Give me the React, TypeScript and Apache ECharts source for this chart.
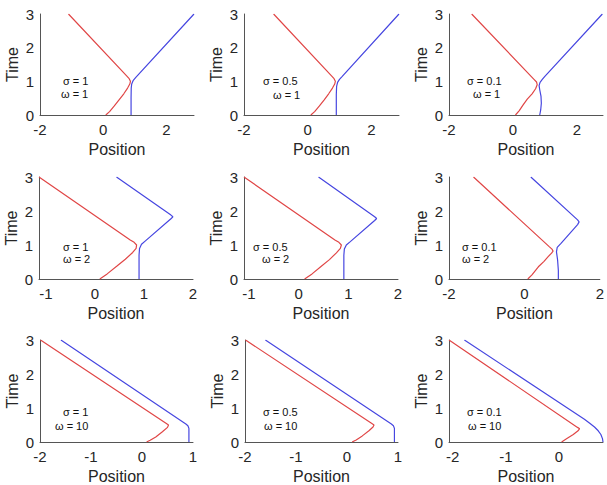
import React, { useEffect, useRef } from "react";
import * as echarts from "echarts";

// ---- data (position x, time t) ----
const timeTicks = [0, 1, 2, 3];
const sigmaLabels = ["σ = 1", "σ = 0.5", "σ = 0.1", "σ = 1", "σ = 0.5", "σ = 0.1", "σ = 1", "σ = 0.5", "σ = 0.1"];
const omegaLabels = ["ω = 1", "ω = 1", "ω = 1", "ω = 2", "ω = 2", "ω = 2", "ω = 10", "ω = 10", "ω = 10"];
const xMins = [-2, -2, -2, -1.14, -1.1, -2, -2, -2, -2.07];
const xMaxs = [2.87, 2.87, 2.82, 2, 2, 2, 1, 1, 0.83];
const xTicks = [
  [-2, 0, 2], [-2, 0, 2], [-2, 0, 2],
  [-1, 0, 1, 2], [-1, 0, 1, 2], [-2, 0, 2],
  [-2, -1, 0, 1], [-2, -1, 0, 1], [-2, -1, 0],
];

const red1 = [[0.08, 0], [0.2, 0.1], [0.35, 0.27], [0.5, 0.45], [0.65, 0.63], [0.77, 0.8], [0.84, 0.92], [0.86, 1.0], [0.82, 1.08], [0.74, 1.16], [-1.1, 3]];
const blue1 = [[0.88, 0], [0.88, 0.5], [0.885, 0.8], [0.9, 0.92], [0.95, 1.03], [1.03, 1.12], [2.87, 3]];
const red2 = [[0.1, 0], [0.22, 0.1], [0.37, 0.27], [0.52, 0.45], [0.66, 0.63], [0.78, 0.8], [0.85, 0.92], [0.87, 1.0], [0.83, 1.08], [0.75, 1.16], [-1.07, 3]];
const blue2 = [[0.9, 0], [0.9, 0.6], [0.91, 0.85], [0.94, 0.97], [1.0, 1.06], [1.08, 1.14], [2.87, 3]];
const red3 = [[0.08, 0], [0.2, 0.13], [0.32, 0.3], [0.45, 0.47], [0.6, 0.63], [0.71, 0.78], [0.76, 0.9], [0.74, 0.98], [0.66, 1.06], [-1.29, 3]];
const blue3 = [[0.84, 0], [0.87, 0.15], [0.89, 0.35], [0.88, 0.55], [0.84, 0.75], [0.82, 0.87], [0.85, 0.97], [0.92, 1.06], [1.0, 1.15], [2.8, 3]];
const red4 = [[0.1, 0], [0.25, 0.15], [0.45, 0.38], [0.62, 0.58], [0.77, 0.78], [0.84, 0.9], [0.85, 1.0], [0.8, 1.08], [0.72, 1.15], [-1.14, 3]];
const blue4 = [[0.9, 0], [0.9, 0.7], [0.91, 0.9], [0.95, 1.02], [1.03, 1.12], [1.55, 1.77], [1.59, 1.83], [1.55, 1.88], [0.44, 3]];
const red5 = [[0.12, 0], [0.27, 0.15], [0.45, 0.37], [0.62, 0.57], [0.76, 0.77], [0.84, 0.9], [0.86, 1.0], [0.81, 1.08], [0.73, 1.15], [-1.1, 3]];
const blue5 = [[0.91, 0], [0.91, 0.7], [0.92, 0.88], [0.96, 1.0], [1.04, 1.1], [1.53, 1.72], [1.57, 1.78], [1.53, 1.83], [0.4, 3]];
const red6 = [[0.09, 0], [0.2, 0.12], [0.37, 0.36], [0.52, 0.52], [0.63, 0.66], [0.72, 0.76], [0.76, 0.82], [0.73, 0.88], [0.65, 0.96], [-1.35, 3]];
const blue6 = [[0.9, 0], [0.9, 0.25], [0.88, 0.56], [0.85, 0.8], [0.87, 0.93], [0.97, 1.05], [1.41, 1.6], [1.45, 1.68], [1.41, 1.74], [0.17, 3]];
const red7 = [[0.09, 0], [0.16, 0.05], [0.27, 0.15], [0.4, 0.3], [0.5, 0.43], [0.52, 0.5], [0.47, 0.55], [-1.99, 3]];
const blue7 = [[0.92, 0], [0.92, 0.4], [0.9, 0.48], [0.86, 0.53], [-1.59, 3]];
const red8 = [[0.1, 0], [0.18, 0.06], [0.3, 0.18], [0.43, 0.33], [0.51, 0.44], [0.53, 0.5], [0.48, 0.55], [-1.99, 3]];
const blue8 = [[0.93, 0], [0.93, 0.4], [0.91, 0.48], [0.87, 0.53], [-1.6, 3]];
const red9 = [[0.05, 0], [0.15, 0.1], [0.27, 0.22], [0.36, 0.33], [0.39, 0.39], [0.35, 0.43], [-2.07, 3]];
const blue9 = [[0.83, 0], [0.82, 0.1], [0.79, 0.22], [0.74, 0.33], [0.67, 0.44], [0.58, 0.55], [0.48, 0.67], [-1.78, 3]];

const redPaths = [red1, red2, red3, red4, red5, red6, red7, red8, red9];
const bluePaths = [blue1, blue2, blue3, blue4, blue5, blue6, blue7, blue8, blue9];

// ---- layout (pixels) ----
const gridLefts = [40, 244, 449, 39, 244, 449, 40, 245, 449];
const gridRights = [194, 399, 603, 193, 398, 602, 193, 398, 603];
const rowTops = [14, 177, 340];
const rowBottoms = [115, 279, 442];
const sigmaPos = [[63, 81], [263, 81], [467, 81], [63, 247], [253, 247], [462, 247], [63, 412], [263, 412], [467, 412]];
const omegaPos = [[61, 94], [273, 95], [473, 94], [63, 259], [262, 259], [462, 259], [55, 426], [264, 426], [468, 426]];

const FONT = "'Liberation Sans', Arial, Helvetica, sans-serif";
const AXIS_COLOR = "#555555";
const TEXT_COLOR = "#262626";
const RED = "#e04646";
const BLUE = "#4646e0";

export default function App() {
  const ref = useRef<HTMLDivElement>(null);
  useEffect(() => {
    if (!ref.current) return;
    const chart = echarts.init(ref.current, null, { renderer: "svg" });
    const grids: any[] = [];
    const xAxes: any[] = [];
    const yAxes: any[] = [];
    const series: any[] = [];
    const graphics: any[] = [];
    for (let i = 0; i < 9; i++) {
      const row = Math.floor(i / 3);
      grids.push({
        left: gridLefts[i],
        top: rowTops[row],
        width: gridRights[i] - gridLefts[i],
        height: rowBottoms[row] - rowTops[row],
        containLabel: false,
      });
      xAxes.push({
        type: "value",
        gridIndex: i,
        min: xMins[i],
        max: xMaxs[i],
        name: "Position",
        nameLocation: "middle",
        nameGap: 26,
        nameTextStyle: { fontSize: 16, color: TEXT_COLOR, fontFamily: FONT },
        axisLine: { show: true, onZero: false, lineStyle: { color: AXIS_COLOR, width: 1 } },
        axisTick: { show: false },
        splitLine: { show: false },
        axisLabel: {
          customValues: xTicks[i],
          fontSize: 15,
          color: TEXT_COLOR,
          fontFamily: FONT,
          margin: 7,
        },
      });
      yAxes.push({
        type: "value",
        gridIndex: i,
        min: 0,
        max: 3,
        interval: 1,
        name: "Time",
        nameLocation: "middle",
        nameGap: 20,
        nameTextStyle: { fontSize: 16, color: TEXT_COLOR, fontFamily: FONT },
        axisLine: { show: true, onZero: false, lineStyle: { color: AXIS_COLOR, width: 1 } },
        axisTick: { show: false },
        splitLine: { show: false },
        axisLabel: {
          customValues: timeTicks,
          fontSize: 15,
          color: TEXT_COLOR,
          fontFamily: FONT,
          margin: 6,
        },
      });
      series.push({
        type: "line",
        xAxisIndex: i,
        yAxisIndex: i,
        data: redPaths[i],
        showSymbol: false,
        symbol: "none",
        lineStyle: { color: RED, width: 1.2 },
        itemStyle: { color: RED },
      });
      series.push({
        type: "line",
        xAxisIndex: i,
        yAxisIndex: i,
        data: bluePaths[i],
        showSymbol: false,
        symbol: "none",
        lineStyle: { color: BLUE, width: 1.2 },
        itemStyle: { color: BLUE },
      });
      graphics.push({
        type: "text",
        x: sigmaPos[i][0],
        y: sigmaPos[i][1],
        style: { text: sigmaLabels[i], fontSize: 11, fill: "#111", fontFamily: FONT, verticalAlign: "middle", align: "left" },
      });
      graphics.push({
        type: "text",
        x: omegaPos[i][0],
        y: omegaPos[i][1],
        style: { text: omegaLabels[i], fontSize: 11, fill: "#111", fontFamily: FONT, verticalAlign: "middle", align: "left" },
      });
    }
    chart.setOption({
      animation: false,
      backgroundColor: "#ffffff",
      grid: grids,
      xAxis: xAxes,
      yAxis: yAxes,
      series,
      graphic: graphics,
    });
    return () => chart.dispose();
  }, []);
  return (
    <div
      ref={ref}
      style={{ position: "absolute", left: 0, top: 0, width: 607, height: 485, background: "#fff" }}
    />
  );
}
